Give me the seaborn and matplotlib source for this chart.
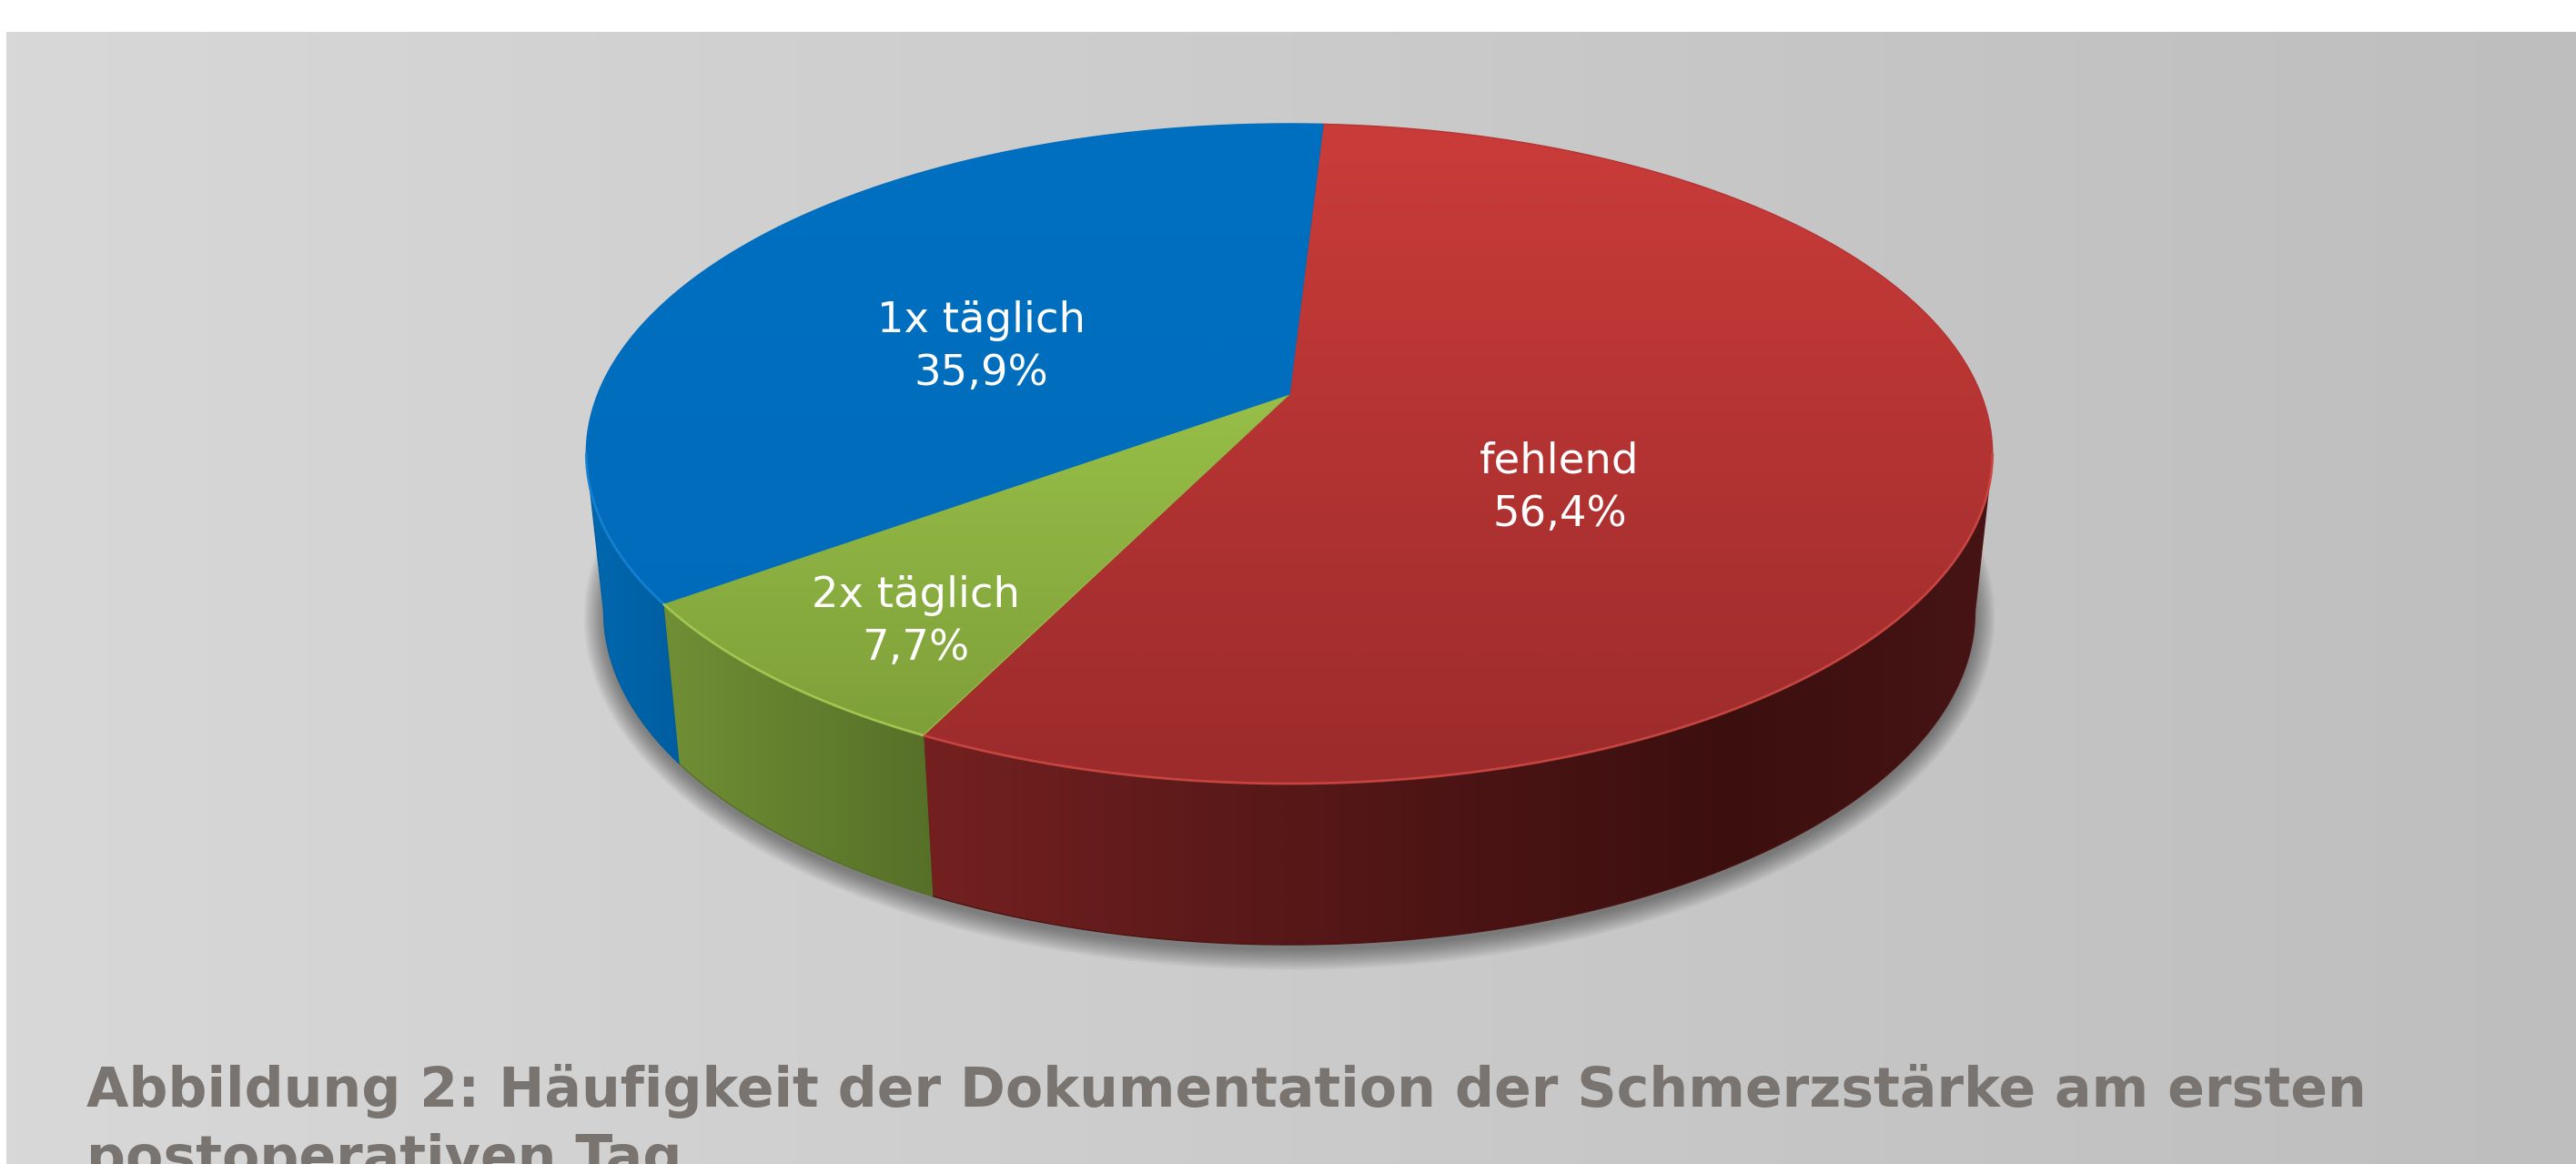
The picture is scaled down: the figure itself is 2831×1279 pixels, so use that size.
import numpy as np
import matplotlib.pyplot as plt
import seaborn as sns
from matplotlib.patches import Polygon

# Data (clockwise from the top)
categories = ["fehlend", "2x täglich", "1x täglich"]
shares = [56.4, 7.7, 35.9]
pct_labels = ["56,4%", "7,7%", "35,9%"]
caption_lines = ["Abbildung 2: Häufigkeit der Dokumentation der Schmerzstärke am ersten",
                 "postoperativen Tag."]

# styles
top_colors = [((202, 60, 58), (156, 43, 43)),
              ((172, 216, 84), (123, 155, 55)),
              ((0, 112, 193), (0, 106, 184))]
wall_colors = [[(116, 32, 32), (94, 26, 26), (76, 20, 20), (60, 15, 15), (70, 20, 20)],
               [(112, 143, 53), (86, 112, 40)],
               [(0, 104, 175), (0, 94, 160)]]
rim_colors = ["#cf4a45", "#a9cc55", "#1a86d4"]
label_pos = [(1714, 520), (1006, 667), (1078, 365)]
line_gap = 58

sns.set_theme(style="white")
plt.rcParams['font.family'] = ['DejaVu Sans']

W, H = 2831, 1279
fig = plt.figure(figsize=(W / 100, H / 100), dpi=100, facecolor="white")
ax = fig.add_axes([0, 0, 1, 1])


def rgb(c):
    return tuple(v / 255 for v in c)


# background gradient
bg = sns.blend_palette([rgb((216, 216, 216)), rgb((190, 190, 190))], as_cmap=True)
ax.imshow(np.linspace(0, 1, 512)[None, :], cmap=bg, extent=(7, W, H, 35),
          aspect="auto", zorder=0)

# perspective pie geometry
CX, CY = 1417, 433
F, G, Q = 760, 350.7, 0.1807
START = 86.7


def top_xy(theta):
    u, v = np.cos(theta), np.sin(theta)
    d = 1 + Q * v
    return CX + F * u / d, CY - G * v / d


def bottom_xy(theta):
    x, y = top_xy(theta)
    return CX + 0.975 * (x - CX), y + 173 - 4 * np.sin(theta)


def fill_gradient(verts, cmap, axis, lo, hi, z):
    poly = Polygon(verts, closed=True, facecolor="none", edgecolor="none")
    ax.add_patch(poly)
    x0, x1 = verts[:, 0].min(), verts[:, 0].max()
    y0, y1 = verts[:, 1].min(), verts[:, 1].max()
    if axis == "y":
        img = ((np.linspace(y0, y1, 400) - lo) / (hi - lo)).clip(0, 1)[:, None]
    else:
        img = ((np.linspace(x0, x1, 400) - lo) / (hi - lo)).clip(0, 1)[None, :]
    im = ax.imshow(img, cmap=cmap, vmin=0, vmax=1, extent=(x0, x1, y1, y0),
                   aspect="auto", interpolation="bilinear", zorder=z)
    im.set_clip_path(poly)


# shadow under the pie
th = np.linspace(0, 2 * np.pi, 400)
bx, by = bottom_xy(th)
bcx, bcy = bx.mean(), (by.max() + by.min()) / 2
A, B = (bx.max() - bx.min()) / 2, (by.max() - by.min()) / 2
for d in np.linspace(0, 22, 16):
    sx = bcx + (bx - bcx) * (A + d) / A
    sy = bcy + (by - bcy) * (B + d) / B + 6
    ax.add_patch(Polygon(np.c_[sx, sy], closed=True, facecolor="black",
                         edgecolor="none", alpha=0.028, zorder=1))

# slice angle ranges (degrees, clockwise)
bounds = START - 3.6 * np.concatenate([[0], np.cumsum(shares)])
vis_lo, vis_hi = -180 + np.degrees(np.arcsin(Q)), -np.degrees(np.arcsin(Q))

for i in range(len(shares)):
    hi, lo = bounds[i], bounds[i + 1]
    # side wall (front, visible part)
    a, b = max(lo, vis_lo), min(hi, vis_hi)
    if a < b:
        t = np.radians(np.linspace(a, b, 200))
        tx, ty = top_xy(t)
        ux, uy = bottom_xy(t[::-1])
        verts = np.c_[np.r_[tx, ux], np.r_[ty, uy]]
        wc = [rgb(c) for c in wall_colors[i]]
        cmap = sns.blend_palette(wc, as_cmap=True)
        fill_gradient(verts, cmap, "x", verts[:, 0].min(), verts[:, 0].max(), 2)
        ax.add_patch(Polygon(verts, closed=True, facecolor="none",
                             edgecolor=wc[len(wc) // 2], lw=1, zorder=2))
    # top face
    t = np.radians(np.linspace(hi, lo, 400))
    tx, ty = top_xy(t)
    verts = np.c_[np.r_[CX, tx], np.r_[CY, ty]]
    cmap = sns.blend_palette([rgb(c) for c in top_colors[i]], as_cmap=True)
    fill_gradient(verts, cmap, "y", 136, 861, 3)
    mid = rgb(tuple((np.array(top_colors[i][0]) + np.array(top_colors[i][1])) / 2))
    ax.add_patch(Polygon(verts, closed=True, facecolor="none", edgecolor=mid,
                         lw=1, zorder=3))
    # highlight on the front rim
    if a < b:
        t = np.radians(np.linspace(a, b, 200))
        rx, ry = top_xy(t)
        ax.plot(rx, ry, color=rim_colors[i], lw=2, alpha=0.8, zorder=4,
                solid_capstyle="butt")
    # labels
    lx, ly = label_pos[i]
    ax.text(lx, ly, categories[i], color="white", fontsize=33.5, ha="center",
            va="baseline", zorder=5)
    ax.text(lx, ly + line_gap, pct_labels[i], color="white", fontsize=33.5,
            ha="center", va="baseline", zorder=5)

# caption (second line runs off the bottom edge, as in the original)
for k, line in enumerate(caption_lines):
    ax.text(95, 1216 + 75 * k, line, color="#7a7471", fontsize=43.3,
            fontweight="bold", ha="left", va="baseline", zorder=5)

ax.set_xlim(0, W)
ax.set_ylim(H, 0)
ax.axis("off")
fig.savefig("out.png", dpi=100, facecolor="white")
